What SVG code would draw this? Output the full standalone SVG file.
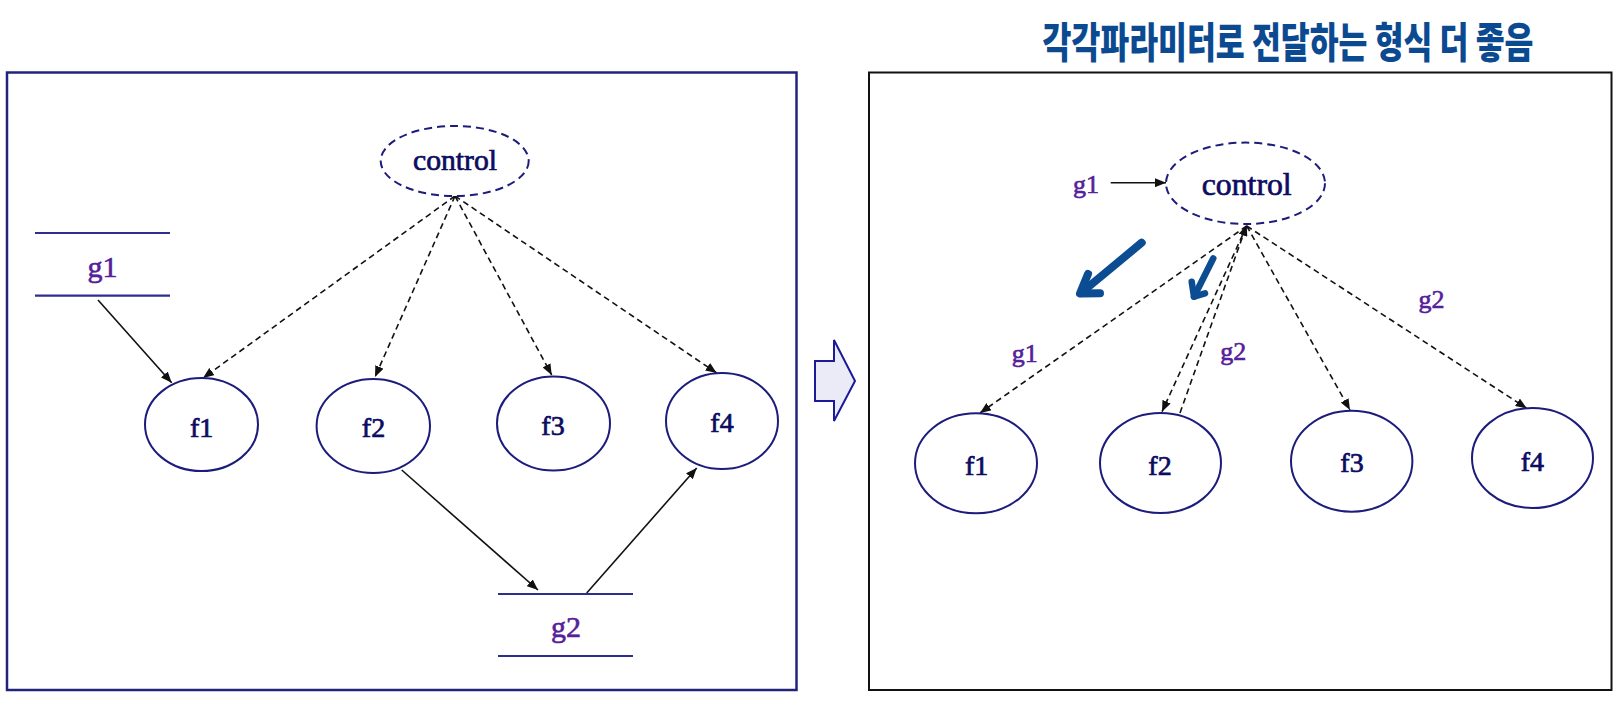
<svg xmlns="http://www.w3.org/2000/svg" width="1622" height="704" viewBox="0 0 1622 704">
<style>
.panelL{fill:none;stroke:#23237e;stroke-width:2.5}
.panelR{fill:none;stroke:#111;stroke-width:2}
.node{fill:#fff;stroke:#1c1c7c;stroke-width:2}
.ctrl{fill:#fff;stroke:#1c1c7c;stroke-width:2;stroke-dasharray:8 5}
.bar{stroke:#2e2e8e;stroke-width:2.2}
.lbl{font-family:"Liberation Serif","Times New Roman",serif;fill:#0c0c62;stroke:#0c0c62;stroke-width:0.7;text-anchor:middle}
.glbl{font-family:"Liberation Serif","Times New Roman",serif;fill:#55209a;stroke:#55209a;stroke-width:0.6;text-anchor:middle}
.solid{fill:none;stroke:#111;stroke-width:1.6;marker-end:url(#ah)}
.dash{fill:none;stroke:#111;stroke-width:1.6;stroke-dasharray:6 4;marker-end:url(#ah)}
.pen{fill:none;stroke:#0b4c92;stroke-linecap:round;stroke-linejoin:round}
</style>
<defs>
<marker id="ah" markerUnits="userSpaceOnUse" markerWidth="11" markerHeight="9" refX="11" refY="4.5" orient="auto">
<path d="M0,0 L11,4.5 L0,9 z" fill="#111" stroke="none"/>
</marker>
</defs>
<rect width="1622" height="704" fill="#fff"/>

<text transform="translate(1288,58) scale(0.785,1.05)" x="0" y="0" font-family="'Noto Sans CJK KR',sans-serif" font-weight="900" font-size="40" fill="#0b4a91" text-anchor="middle">각각파라미터로 전달하는 형식 더 좋음</text>

<rect id="panel-left" class="panelL" x="7" y="72.5" width="789.5" height="617.5"/>
<rect id="panel-right" class="panelR" x="869" y="72.5" width="742.5" height="617.5"/>

<polygon id="transition-arrow" points="815,361 834,361 834,340 855,381 834,421 834,401 815,401" fill="#ebebf8" stroke="#1a1a9a" stroke-width="2"/>

<g id="connectors">
  <line class="solid" x1="98" y1="300" x2="171.7" y2="382.7"/>
  <line class="dash" x1="455" y1="196" x2="203" y2="378"/>
  <line class="dash" x1="455" y1="196" x2="375" y2="377"/>
  <line class="dash" x1="455" y1="196" x2="551.7" y2="375"/>
  <line class="dash" x1="455" y1="196" x2="716.7" y2="373"/>
  <line class="solid" x1="401.7" y1="470" x2="538" y2="590"/>
  <line class="solid" x1="586.7" y1="593" x2="696.7" y2="468"/>

  <line class="solid" x1="1110.7" y1="182.7" x2="1166" y2="182.7"/>
  <line class="dash" x1="1246.7" y1="226" x2="980" y2="413"/>
  <line class="dash" x1="1246.7" y1="226" x2="1162" y2="411.7"/>
  <line class="dash" x1="1180" y1="413" x2="1246.7" y2="225"/>
  <line class="dash" x1="1246.7" y1="226" x2="1350" y2="410"/>
  <line class="dash" x1="1246.7" y1="226" x2="1526.7" y2="408.3"/>
</g>

<g id="left-control">
  <ellipse class="ctrl" cx="454.7" cy="161" rx="74" ry="35"/>
  <text class="lbl" x="455" y="170" font-size="30" textLength="84" lengthAdjust="spacingAndGlyphs">control</text>
</g>
<g id="left-g1">
  <line class="bar" x1="35" y1="233" x2="170" y2="233"/>
  <line class="bar" x1="35" y1="295.7" x2="170" y2="295.7"/>
  <text class="glbl" x="102.5" y="277" font-size="30">g1</text>
</g>
<g id="left-g2">
  <line class="bar" x1="498" y1="594" x2="633" y2="594"/>
  <line class="bar" x1="498" y1="656" x2="633" y2="656"/>
  <text class="glbl" x="566" y="637" font-size="30">g2</text>
</g>
<g id="left-f1">
  <ellipse class="node" cx="201.5" cy="424.5" rx="56.5" ry="46.5"/>
  <text class="lbl" x="201.7" y="436.7" font-size="28">f1</text>
</g>
<g id="left-f2">
  <ellipse class="node" cx="373.3" cy="426" rx="56.7" ry="47"/>
  <text class="lbl" x="373.5" y="437" font-size="28">f2</text>
</g>
<g id="left-f3">
  <ellipse class="node" cx="553.5" cy="423.5" rx="56.5" ry="47"/>
  <text class="lbl" x="553" y="435" font-size="28">f3</text>
</g>
<g id="left-f4">
  <ellipse class="node" cx="722" cy="421" rx="56" ry="48"/>
  <text class="lbl" x="722" y="431.7" font-size="28">f4</text>
</g>

<g id="right-g1">
  <text class="glbl" x="1086" y="192.7" font-size="26">g1</text>
</g>
<g id="right-control">
  <ellipse class="ctrl" cx="1245.5" cy="183.3" rx="79.5" ry="40.7"/>
  <text class="lbl" x="1246.7" y="195" font-size="32" textLength="90" lengthAdjust="spacingAndGlyphs">control</text>
</g>
<g id="right-f1">
  <ellipse class="node" cx="976" cy="463.3" rx="61" ry="50"/>
  <text class="lbl" x="976.7" y="475" font-size="28">f1</text>
</g>
<g id="right-f2">
  <ellipse class="node" cx="1160.5" cy="463" rx="60.5" ry="50"/>
  <text class="lbl" x="1160" y="475" font-size="28">f2</text>
</g>
<g id="right-f3">
  <ellipse class="node" cx="1351.7" cy="461.2" rx="60.7" ry="50.5"/>
  <text class="lbl" x="1352" y="471.7" font-size="28">f3</text>
</g>
<g id="right-f4">
  <ellipse class="node" cx="1532.5" cy="458" rx="60.5" ry="50"/>
  <text class="lbl" x="1532.3" y="470.7" font-size="28">f4</text>
</g>
<g id="right-labels">
  <text class="glbl" x="1024.7" y="361.7" font-size="26">g1</text>
  <text class="glbl" x="1233.3" y="360" font-size="26">g2</text>
  <text class="glbl" x="1431.5" y="308.3" font-size="26">g2</text>
</g>

<g id="annotations">
  <path class="pen" stroke-width="8" d="M1141.7,242.7 L1081,293"/>
  <path class="pen" stroke-width="8" d="M1088,274 L1080,293.5 L1100,293.3"/>
  <path class="pen" stroke-width="6.5" d="M1213.3,258.3 L1194,296.7"/>
  <path class="pen" stroke-width="6.5" d="M1191.7,281.7 L1194,296.7 L1205,293.3"/>
</g>
</svg>
